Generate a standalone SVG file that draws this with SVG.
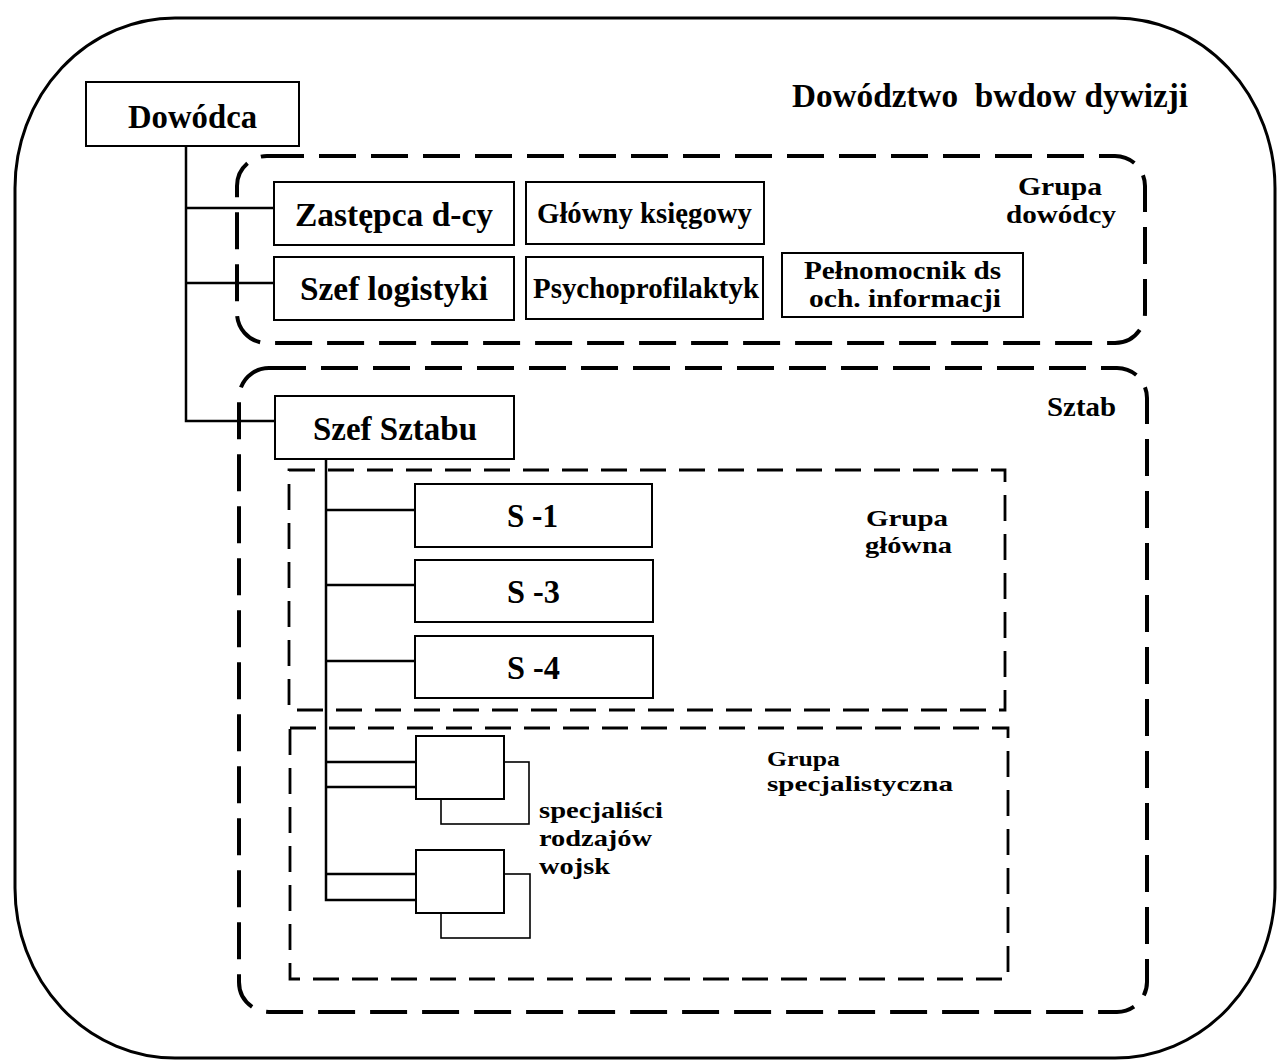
<svg xmlns="http://www.w3.org/2000/svg" width="1277" height="1061" viewBox="0 0 1277 1061">
  <style>
    text { font-family: "Liberation Serif", "Times New Roman", serif; font-weight: bold; fill: #000; white-space: pre; }
    .box { fill: #fff; stroke: #000; stroke-width: 2; }
    .back { fill: #fff; stroke: #000; stroke-width: 1.6; }
    .wire { fill: none; stroke: #000; stroke-width: 2.5; }
    .frame { fill: none; stroke: #000; stroke-width: 3; }
    .zone { fill: none; stroke: #000; stroke-width: 4; stroke-dasharray: 37 15; }
    .sub { fill: none; stroke: #000; stroke-width: 2.8; stroke-dasharray: 26 13; }
  </style>

  <rect width="1277" height="1061" fill="#fff"/>

  <!-- outer frame: division command -->
  <g id="frame">
    <rect class="frame" x="15" y="18" width="1260" height="1040" rx="160" ry="170"/>
    <text x="792" y="107" font-size="33" textLength="396" lengthAdjust="spacingAndGlyphs" xml:space="preserve">Dowództwo  bwdow dywizji</text>
  </g>

  <!-- group zones -->
  <g id="grupa-dowodcy">
    <rect class="zone" x="237" y="156" width="908" height="187" rx="30"/>
    <text x="1018" y="195" font-size="25" textLength="84" lengthAdjust="spacingAndGlyphs">Grupa</text>
    <text x="1006" y="223" font-size="25" textLength="110" lengthAdjust="spacingAndGlyphs">dowódcy</text>
  </g>
  <g id="sztab">
    <rect class="zone" x="239" y="368" width="908" height="644" rx="30"/>
    <text x="1047" y="416" font-size="27" textLength="69" lengthAdjust="spacingAndGlyphs">Sztab</text>
  </g>
  <g id="grupa-glowna">
    <rect class="sub" x="289" y="470" width="716" height="240"/>
    <text x="866" y="526" font-size="24" textLength="82" lengthAdjust="spacingAndGlyphs">Grupa</text>
    <text x="865" y="553" font-size="24" textLength="87" lengthAdjust="spacingAndGlyphs">główna</text>
  </g>
  <g id="grupa-specjalistyczna">
    <rect class="sub" x="290" y="728" width="718" height="251"/>
    <text x="767" y="766" font-size="22" textLength="73" lengthAdjust="spacingAndGlyphs">Grupa</text>
    <text x="767" y="791" font-size="22" textLength="186" lengthAdjust="spacingAndGlyphs">specjalistyczna</text>
  </g>

  <!-- connectors -->
  <g id="connectors">
    <path class="wire" d="M186 146 V421 H275"/>
    <path class="wire" d="M186 208 H275"/>
    <path class="wire" d="M186 283 H275"/>
    <path class="wire" d="M326 459 V900 H416"/>
    <path class="wire" d="M326 510 H415"/>
    <path class="wire" d="M326 585 H415"/>
    <path class="wire" d="M326 661 H415"/>
    <path class="wire" d="M326 762 H416"/>
    <path class="wire" d="M326 787 H416"/>
    <path class="wire" d="M326 874 H416"/>
  </g>

  <!-- command nodes -->
  <g id="dowodca">
    <rect class="box" x="86" y="82" width="213" height="64"/>
    <text x="128" y="128" font-size="34" textLength="129" lengthAdjust="spacingAndGlyphs">Dowódca</text>
  </g>
  <g id="zastepca">
    <rect class="box" x="274" y="182" width="240" height="63"/>
    <text x="295" y="226" font-size="34" textLength="198" lengthAdjust="spacingAndGlyphs">Zastępca d-cy</text>
  </g>
  <g id="glowny-ksiegowy">
    <rect class="box" x="526" y="182" width="238" height="62"/>
    <text x="537" y="223" font-size="29" textLength="215" lengthAdjust="spacingAndGlyphs">Główny księgowy</text>
  </g>
  <g id="szef-logistyki">
    <rect class="box" x="274" y="257" width="240" height="63"/>
    <text x="300" y="300" font-size="34" textLength="188" lengthAdjust="spacingAndGlyphs">Szef logistyki</text>
  </g>
  <g id="psychoprofilaktyk">
    <rect class="box" x="526" y="257" width="237" height="62"/>
    <text x="533" y="298" font-size="29" textLength="226" lengthAdjust="spacingAndGlyphs">Psychoprofilaktyk</text>
  </g>
  <g id="pelnomocnik">
    <rect class="box" x="782" y="253" width="241" height="64"/>
    <text x="804" y="279" font-size="25" textLength="197" lengthAdjust="spacingAndGlyphs">Pełnomocnik ds</text>
    <text x="809" y="307" font-size="25" textLength="192" lengthAdjust="spacingAndGlyphs">och. informacji</text>
  </g>
  <g id="szef-sztabu">
    <rect class="box" x="275" y="396" width="239" height="63"/>
    <text x="313" y="440" font-size="34" textLength="164" lengthAdjust="spacingAndGlyphs">Szef Sztabu</text>
  </g>

  <!-- staff sections -->
  <g id="s1">
    <rect class="box" x="415" y="484" width="237" height="63"/>
    <text x="507" y="527" font-size="33" textLength="51" lengthAdjust="spacingAndGlyphs">S -1</text>
  </g>
  <g id="s3">
    <rect class="box" x="415" y="560" width="238" height="62"/>
    <text x="507" y="603" font-size="33" textLength="53" lengthAdjust="spacingAndGlyphs">S -3</text>
  </g>
  <g id="s4">
    <rect class="box" x="415" y="636" width="238" height="62"/>
    <text x="507" y="679" font-size="33" textLength="53" lengthAdjust="spacingAndGlyphs">S -4</text>
  </g>

  <!-- arms specialists: stacked cards -->
  <g id="specjalisci-1">
    <rect class="back" x="441" y="762" width="88" height="62"/>
    <rect class="box" x="416" y="736" width="88" height="63"/>
  </g>
  <g id="specjalisci-2">
    <rect class="back" x="441" y="874" width="89" height="64"/>
    <rect class="box" x="416" y="850" width="88" height="63"/>
  </g>
  <g id="specjalisci-label">
    <text x="539" y="818" font-size="24" textLength="124" lengthAdjust="spacingAndGlyphs">specjaliści</text>
    <text x="539" y="846" font-size="24" textLength="113" lengthAdjust="spacingAndGlyphs">rodzajów</text>
    <text x="539" y="874" font-size="24" textLength="71" lengthAdjust="spacingAndGlyphs">wojsk</text>
  </g>
</svg>
